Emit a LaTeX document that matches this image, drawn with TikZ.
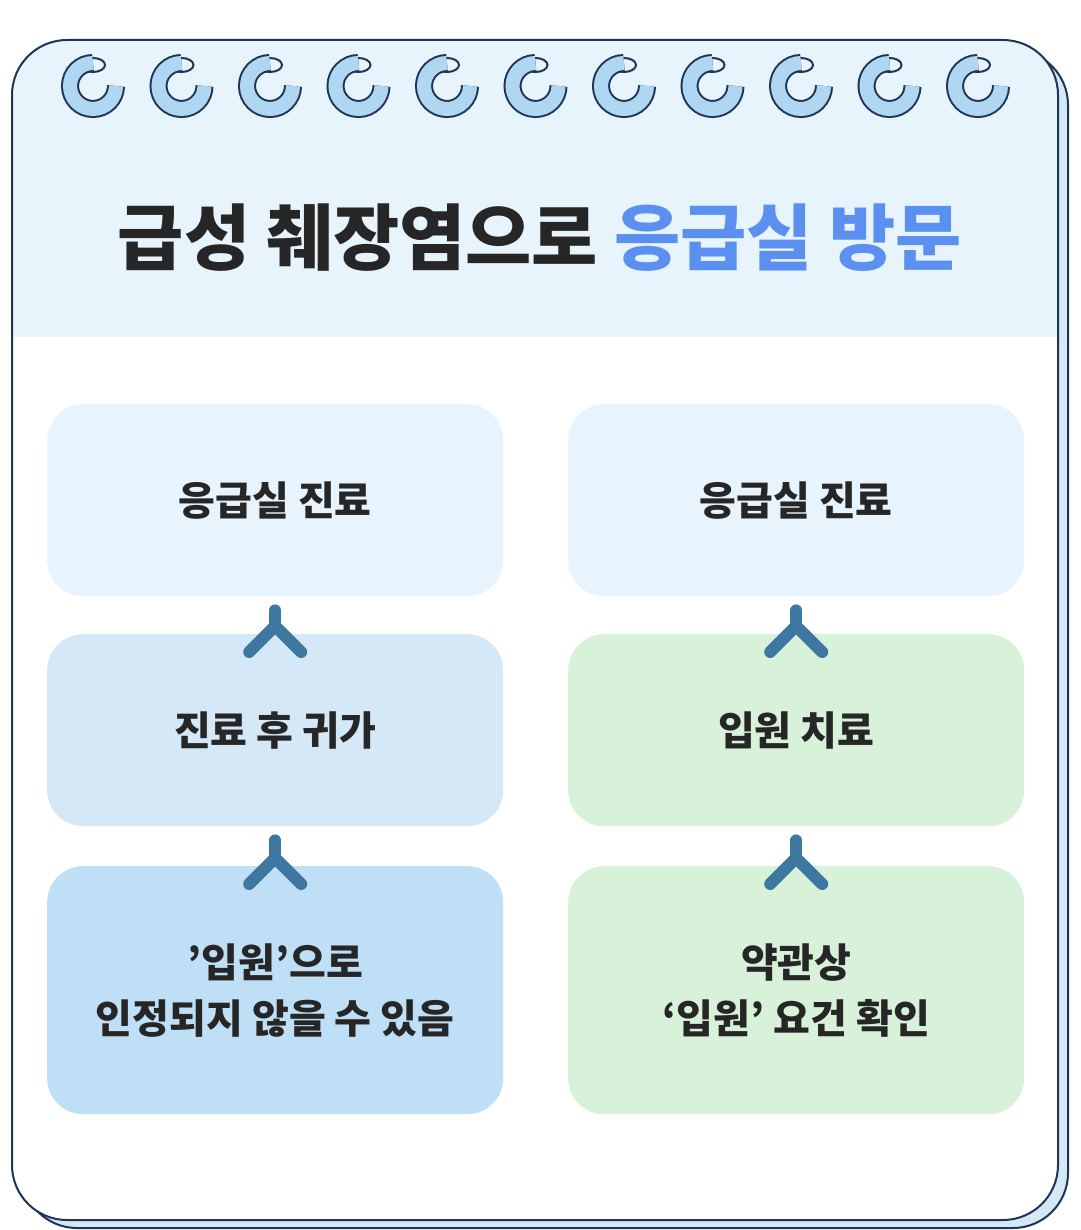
\documentclass[tikz,border=0pt]{standalone}
\usepackage{fontspec}
\newfontfamily\kr{Noto Sans CJK KR}
\definecolor{edge}{HTML}{1E3556}
\definecolor{hdr}{HTML}{E8F4FC}
\definecolor{ring}{HTML}{B0D7F2}
\definecolor{b1}{HTML}{E8F4FD}
\definecolor{b2}{HTML}{D4E8F7}
\definecolor{b3}{HTML}{BEDFF5}
\definecolor{gr}{HTML}{D8F1D9}
\definecolor{arr}{HTML}{3E78A0}
\definecolor{txt}{HTML}{262626}
\definecolor{blu}{HTML}{5B8FF0}
\begin{document}
\begin{tikzpicture}[x=1pt,y=-1pt,
 box/.style={rounded corners=36pt,minimum width=456pt,anchor=north west,inner sep=0pt,font=\kr\bfseries\fontsize{40}{56}\selectfont,text=txt,align=center},
 ar/.style={draw=arr,line width=12pt,line cap=round,line join=round}]
\useasboundingbox (0,0) rectangle (1080,1230);
% back page
\draw[edge,line width=2pt,fill=b2] (22,50) [rounded corners=55pt] rectangle (1068,1228);
% front page
\begin{scope}
\clip[rounded corners=55pt] (12,40) rectangle (1058,1220);
\fill[white] (12,40) rectangle (1058,1220);
\fill[hdr] (12,40) rectangle (1058,337);
\end{scope}
\draw[edge,line width=2pt,rounded corners=55pt] (12,40) rectangle (1058,1220);
% rings
\foreach \i in {0,...,10}{
 \begin{scope}[shift={(93+88.5*\i,40)}]
  \draw[edge,line width=2pt,fill=hdr] (0,25) ellipse (12pt and 7pt);
  \draw[edge,line width=17pt] (13,22) arc(60:0:0) ;
  \draw[edge,line width=18pt] (0,23) arc(90:-90:-23) arc(270:180:-23) arc(180:90:0);
  \draw[ring,line width=14pt] (0,23) arc(90:-90:-23) arc(270:180:-23);
 \end{scope}}
% title
\node[font=\kr\bfseries\fontsize{72}{80}\selectfont,text=txt] (title) at (540,238) {급성 췌장염으로 \textcolor{blu}{응급실 방문}};
% boxes
\node[box,fill=b1,minimum height=192pt] (l1) at (47,404) {응급실 진료};
\node[box,fill=b2,minimum height=192pt] (l2) at (47,634) {진료 후 귀가};
\node[box,fill=b3,minimum height=248pt] (l3) at (47,866) {’입원’으로\\인정되지 않을 수 있음};
\node[box,fill=b1,minimum height=192pt] (r1) at (568,404) {응급실 진료};
\node[box,fill=gr,minimum height=192pt] (r2) at (568,634) {입원 치료};
\node[box,fill=gr,minimum height=248pt] (r3) at (568,866) {약관상\\‘입원’ 요건 확인};
% arrows
\foreach \a/\b in {l1/l2,l2/l3,r1/r2,r2/r3}{
 \draw[ar] ([yshift=-14pt]\a.south) -- ([yshift=8pt]\b.north);
 \draw[ar] ([xshift=-26pt,yshift=-18pt]\b.north) -- ([yshift=8pt]\b.north) -- ([xshift=26pt,yshift=-18pt]\b.north);}
\end{tikzpicture}
\end{document}
